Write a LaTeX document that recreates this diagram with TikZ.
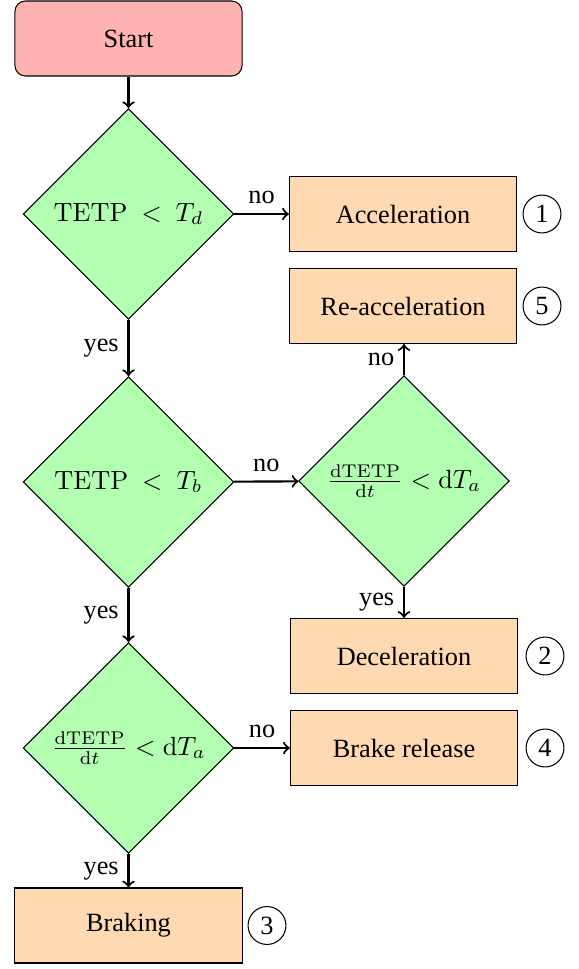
\documentclass[tikz,border=0pt]{standalone}
\usepackage[no-math]{fontspec}
\setmainfont{Liberation Serif}
\usetikzlibrary{shapes.geometric}
\tikzset{
  startbox/.style={rectangle, rounded corners=4pt, draw, fill=red!30, minimum width=86.3pt, minimum height=28.5pt},
  decision/.style={diamond, aspect=1, draw, fill=green!30, minimum width=80pt, minimum height=80pt, inner sep=1pt},
  procbox/.style={rectangle, draw, fill=orange!30, minimum width=86.3pt, minimum height=28.5pt},
  numc/.style={circle, draw, minimum size=14.4pt, inner sep=0pt},
  arr/.style={draw, thick, ->}
}
\begin{document}
\begin{tikzpicture}[x=0.38pt, y=-0.38pt, font=\fontsize{10pt}{12pt}\selectfont]
\useasboundingbox (0,0) rectangle (579,969);
\node[startbox] (start) at (128.5,38.5) {Start};
\node[decision] (d1) at (128.5,214) {$\mathrm{TETP}\ <\ T_d$};
\node[procbox] (acc) at (403,214) {Acceleration};
\node[numc] (n1) at (542,214) {1};
\node[procbox] (reacc) at (403,306) {Re-acceleration};
\node[numc] (n5) at (542,306) {5};
\node[decision] (d2) at (128.5,482) {$\mathrm{TETP}\ <\ T_b$};
\node[decision] (d4) at (404,481) {$\frac{\mathrm{dTETP}}{\mathrm{d}t} < \mathrm{d}T_a$};
\node[procbox] (dec) at (404,656) {Deceleration};
\node[numc] (n2) at (545,656) {2};
\node[decision] (d3) at (128.5,748) {$\frac{\mathrm{dTETP}}{\mathrm{d}t} < \mathrm{d}T_a$};
\node[procbox] (brel) at (404,748) {Brake release};
\node[numc] (n4) at (545,748) {4};
\node[procbox] (brk) at (128.5,925.5) {Braking};
\node[numc] (n3) at (267,925.5) {3};
\draw[arr] (start) -- (d1);
\draw[arr] (d1) -- node[above] {no} (acc);
\draw[arr] (d1) -- node[left] {yes} (d2);
\draw[arr] (d2) -- node[above] {no} (d4);
\draw[arr] (d4) -- node[left] {no} (d4 |- reacc.south);
\draw[arr] (d4) -- node[left] {yes} (dec);
\draw[arr] (d2) -- node[left] {yes} (d3);
\draw[arr] (d3) -- node[above] {no} (brel);
\draw[arr] (d3) -- node[left] {yes} (brk);
\end{tikzpicture}
\end{document}
